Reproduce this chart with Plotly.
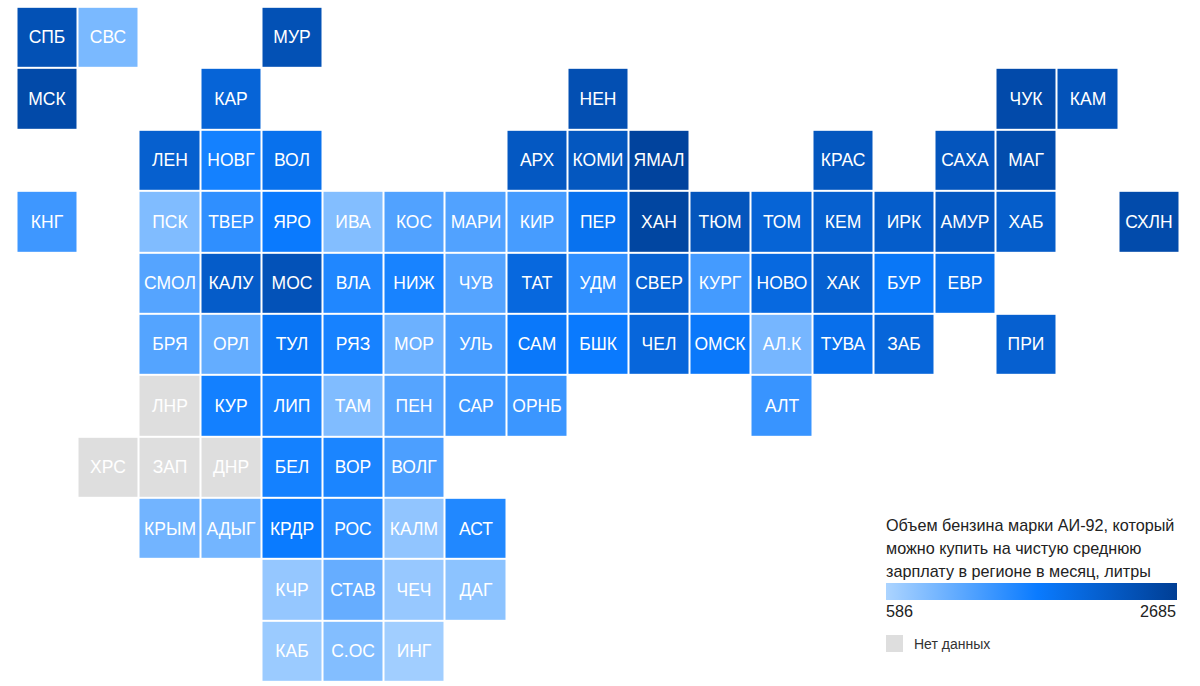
import plotly.graph_objects as go

N = None
tile_labels = [
    ["СПБ", "СВС", N, N, "МУР", N, N, N, N, N, N, N, N, N, N, N, N, N, N],
    ["МСК", N, N, "КАР", N, N, N, N, N, "НЕН", N, N, N, N, N, N, "ЧУК", "КАМ", N],
    [N, N, "ЛЕН", "НОВГ", "ВОЛ", N, N, N, "АРХ", "КОМИ", "ЯМАЛ", N, N, "КРАС", N, "САХА", "МАГ", N, N],
    ["КНГ", N, "ПСК", "ТВЕР", "ЯРО", "ИВА", "КОС", "МАРИ", "КИР", "ПЕР", "ХАН", "ТЮМ", "ТОМ", "КЕМ", "ИРК", "АМУР", "ХАБ", N, "СХЛН"],
    [N, N, "СМОЛ", "КАЛУ", "МОС", "ВЛА", "НИЖ", "ЧУВ", "ТАТ", "УДМ", "СВЕР", "КУРГ", "НОВО", "ХАК", "БУР", "ЕВР", N, N, N],
    [N, N, "БРЯ", "ОРЛ", "ТУЛ", "РЯЗ", "МОР", "УЛЬ", "САМ", "БШК", "ЧЕЛ", "ОМСК", "АЛ.К", "ТУВА", "ЗАБ", N, "ПРИ", N, N],
    [N, N, "ЛНР", "КУР", "ЛИП", "ТАМ", "ПЕН", "САР", "ОРНБ", N, N, N, "АЛТ", N, N, N, N, N, N],
    [N, "ХРС", "ЗАП", "ДНР", "БЕЛ", "ВОР", "ВОЛГ", N, N, N, N, N, N, N, N, N, N, N, N],
    [N, N, "КРЫМ", "АДЫГ", "КРДР", "РОС", "КАЛМ", "АСТ", N, N, N, N, N, N, N, N, N, N, N],
    [N, N, N, N, "КЧР", "СТАВ", "ЧЕЧ", "ДАГ", N, N, N, N, N, N, N, N, N, N, N],
    [N, N, N, N, "КАБ", "С.ОС", "ИНГ", N, N, N, N, N, N, N, N, N, N, N, N],
]
litres = {
    "СПБ": 2370, "СВС": 920, "МУР": 2370, "МСК": 2490, "КАР": 2050, "НЕН": 2400, "ЧУК": 2480, "КАМ": 2350,
    "ЛЕН": 2130, "НОВГ": 1610, "ВОЛ": 1850, "АРХ": 2250, "КОМИ": 2280, "ЯМАЛ": 2600, "КРАС": 2280, "САХА": 2300, "МАГ": 2450,
    "КНГ": 1330, "ПСК": 880, "ТВЕР": 1430, "ЯРО": 1690, "ИВА": 860, "КОС": 1200, "МАРИ": 1200, "КИР": 1270, "ПЕР": 1830,
    "ХАН": 2560, "ТЮМ": 2310, "ТОМ": 2060, "КЕМ": 2130, "ИРК": 2170, "АМУР": 2250, "ХАБ": 2180, "СХЛН": 2470,
    "СМОЛ": 1170, "КАЛУ": 2190, "МОС": 2350, "ВЛА": 1530, "НИЖ": 1580, "ЧУВ": 1170, "ТАТ": 1990, "УДМ": 1430, "СВЕР": 2110,
    "КУРГ": 1290, "НОВО": 1970, "ХАК": 2110, "БУР": 1750, "ЕВР": 1880,
    "БРЯ": 1180, "ОРЛ": 1070, "ТУЛ": 1770, "РЯЗ": 1590, "МОР": 1020, "УЛЬ": 1270, "САМ": 1720, "БШК": 1690, "ЧЕЛ": 2020,
    "ОМСК": 1720, "АЛ.К": 950, "ТУВА": 1870, "ЗАБ": 2030, "ПРИ": 2120,
    "КУР": 1620, "ЛИП": 1580, "ТАМ": 880, "ПЕН": 1170, "САР": 1320, "ОРНБ": 1350, "АЛТ": 1370,
    "БЕЛ": 1610, "ВОР": 1560, "ВОЛГ": 1230,
    "КРЫМ": 980, "АДЫГ": 970, "КРДР": 1680, "РОС": 1480, "КАЛМ": 770, "АСТ": 1520,
    "КЧР": 740, "СТАВ": 1060, "ЧЕЧ": 730, "ДАГ": 800, "КАБ": 700, "С.ОС": 860, "ИНГ": 660,
}
legend_title = [
    "Объем бензина марки АИ-92, который",
    "можно купить на чистую среднюю",
    "зарплату в регионе в месяц, литры",
]
scale_min, scale_max = 586, 2685
no_data_label = "Нет данных"

W, H = 1200, 686
FONT = "Liberation Sans, Arial, sans-serif"
TXT = "#222222"
GRAY = "#dedede"

z_vals = [[litres.get(c) if c else None for c in row] for row in tile_labels]
z_none = [[1 if (c and c not in litres) else None for c in row] for row in tile_labels]
texts_vals = [[c if (c and c in litres) else "" for c in row] for row in tile_labels]
texts_none = [[c if (c and c not in litres) else "" for c in row] for row in tile_labels]

fig = go.Figure()
fig.add_trace(go.Heatmap(
    z=z_vals, text=texts_vals, texttemplate="%{text}",
    textfont=dict(family=FONT, size=17.5, color="white"),
    zmin=scale_min, zmax=scale_max, xgap=2, ygap=2, hoverongaps=False,
    colorscale=[[0, "#acd4ff"], [0.52, "#0a7bff"], [1, "#003e94"]],
    colorbar=dict(
        orientation="h", xref="container", yref="container",
        x=886 / W, xanchor="left", y=1 - 600 / H, yanchor="bottom",
        lenmode="pixels", len=291, thicknessmode="pixels", thickness=17,
        xpad=0, ypad=0, outlinewidth=0, ticks="", showticklabels=False,
    ),
))
fig.add_trace(go.Heatmap(
    z=z_none, text=texts_none, texttemplate="%{text}",
    textfont=dict(family=FONT, size=17.5, color="white"),
    xgap=2, ygap=2, hoverongaps=False, showscale=False,
    colorscale=[[0, GRAY], [1, GRAY]],
))

ann = []
for line, py in zip(legend_title, [525, 548, 571]):
    ann.append(dict(text=line, x=884 / W, y=1 - py / H, xanchor="left", yanchor="middle", align="left"))
ann.append(dict(text=str(scale_min), x=884 / W, y=1 - 611 / H, xanchor="left", yanchor="middle"))
ann.append(dict(text=str(scale_max), x=1178 / W, y=1 - 611 / H, xanchor="right", yanchor="middle"))
for a in ann:
    a.update(xref="paper", yref="paper", showarrow=False, font=dict(family=FONT, size=16.2, color=TXT))
ann.append(dict(text=no_data_label, x=912 / W, y=1 - 644 / H, xref="paper", yref="paper", xanchor="left",
                yanchor="middle", showarrow=False, font=dict(family=FONT, size=14, color="#333333")))

fig.update_layout(
    width=W, height=H, autosize=False,
    margin=dict(l=0, r=0, t=0, b=0, pad=0, autoexpand=False),
    paper_bgcolor="white", plot_bgcolor="white",
    annotations=ann,
    shapes=[dict(type="rect", xref="paper", yref="paper", x0=886 / W, x1=903 / W,
                 y0=1 - 652 / H, y1=1 - 635 / H, fillcolor=GRAY, line_width=0)],
    # axis ranges chosen so one cell spans 61.2 x 61.38 px starting at (16.5, 6.8)
    xaxis=dict(range=[-0.5 - 16.5 / 61.2, -0.5 + (W - 16.5) / 61.2], visible=False, fixedrange=True),
    yaxis=dict(range=[-0.5 + (H - 6.8) / 61.38, -0.5 - 6.8 / 61.38], visible=False, fixedrange=True),
)
fig.write_html("out.html", config={"displayModeBar": False},
               post_script="document.body.style.margin='0';")
